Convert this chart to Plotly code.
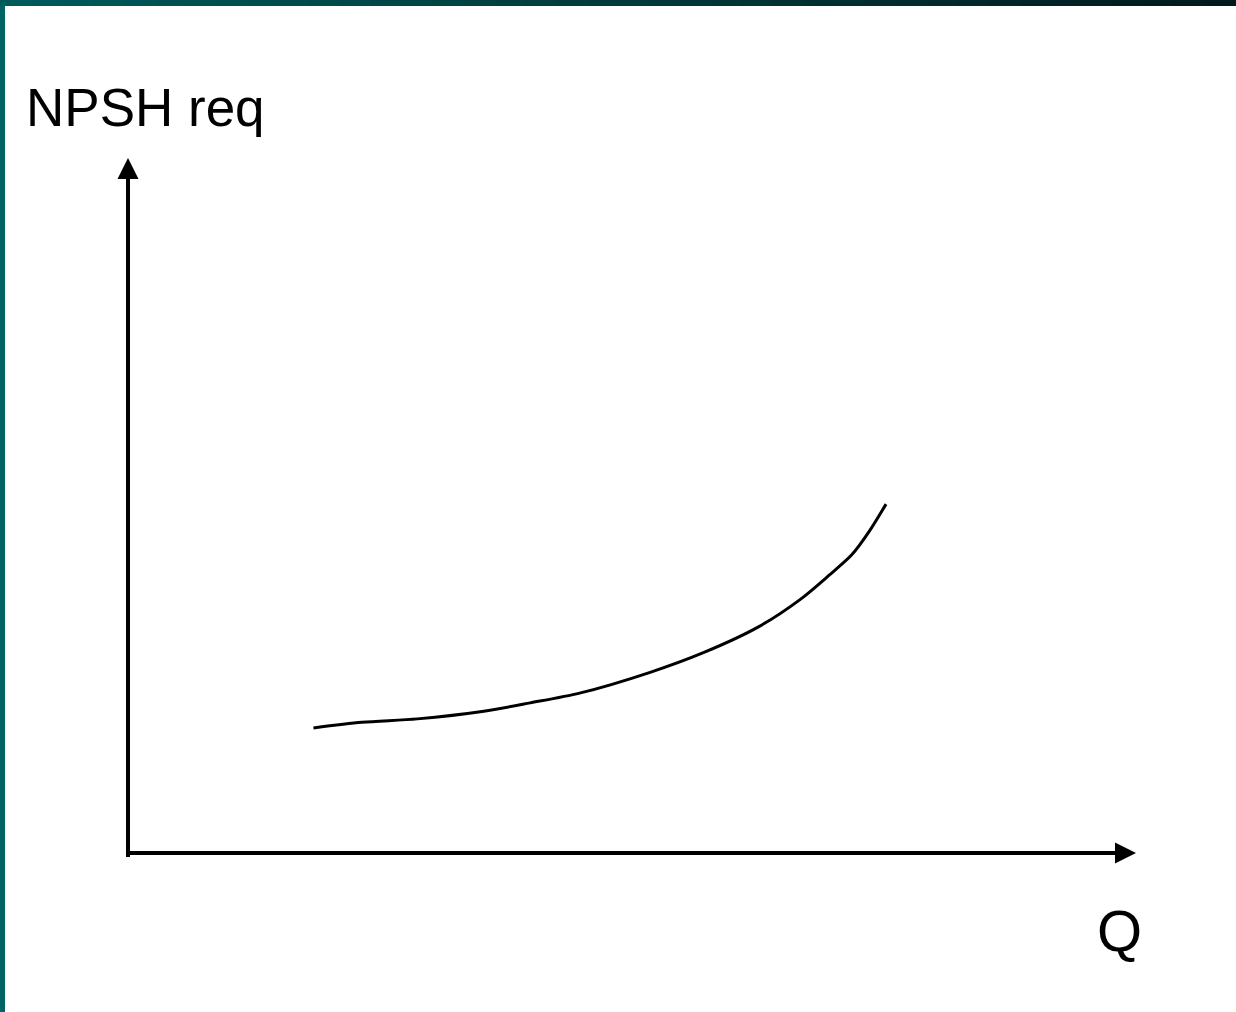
import plotly.graph_objects as go

# Data (arbitrary units)
q_values = [18.4, 23.2, 28.7, 35.3, 39.9, 44.8, 51.8, 57.2, 62.5, 66.7, 69.5, 71.8, 73.5, 75.2]
npsh_values = [18.0, 18.8, 19.3, 20.4, 21.6, 23.0, 26.0, 28.9, 32.5, 36.5, 39.9, 42.9, 46.2, 50.2]
y_label = "NPSH req"
x_label = "Q"

W, H = 1236, 1012
ML, MR, MT, MB = 128, 100, 158, 159
PW, PH = W - ML - MR, H - MT - MB

def px_x(p):
    return (p - ML) / PW

def px_y(p):
    return (H - MB - p) / PH

fig = go.Figure()
fig.add_trace(go.Scatter(x=q_values, y=npsh_values, mode="lines",
                         line=dict(color="black", width=3, shape="spline", smoothing=0.8),
                         showlegend=False, hoverinfo="skip"))

annotations = [
    # y axis arrow
    dict(x=0, y=100, ax=0, ay=-0.8, xref="x", yref="y", axref="x", ayref="y",
         showarrow=True, arrowhead=2, arrowsize=1.05, arrowwidth=4, arrowcolor="black", text=""),
    # x axis arrow
    dict(x=100, y=0, ax=-0.1, ay=0, xref="x", yref="y", axref="x", ayref="y",
         showarrow=True, arrowhead=2, arrowsize=1.05, arrowwidth=4, arrowcolor="black", text=""),
    dict(x=px_x(24), y=px_y(107), xref="paper", yref="paper", text=y_label, showarrow=False,
         xanchor="left", yanchor="middle",
         font=dict(family="Liberation Sans, Arial", size=53, color="black")),
    dict(x=px_x(1119), y=px_y(930), xref="paper", yref="paper", text=x_label, showarrow=False,
         xanchor="center", yanchor="middle",
         font=dict(family="Liberation Sans, Arial", size=58, color="black")),
]

shapes = []
# left teal band
shapes.append(dict(type="rect", xref="paper", yref="paper", x0=px_x(0), x1=px_x(5),
                   y0=px_y(H), y1=px_y(0), fillcolor="#006464", line=dict(width=0), layer="above"))
# top gradient band
n = 40
c0 = (0x00, 0x5a, 0x5a)
c1 = (0x00, 0x1a, 0x1c)
for i in range(n):
    t = i / (n - 1)
    col = "rgb({},{},{})".format(*[round(a + (b - a) * t) for a, b in zip(c0, c1)])
    shapes.append(dict(type="rect", xref="paper", yref="paper",
                       x0=px_x(W * i / n), x1=px_x(W * (i + 1) / n + 1),
                       y0=px_y(6), y1=px_y(0), fillcolor=col, line=dict(width=0), layer="above"))

fig.update_layout(
    width=W, height=H,
    margin=dict(l=ML, r=MR, t=MT, b=MB, pad=0),
    paper_bgcolor="white", plot_bgcolor="white",
    xaxis=dict(range=[0, 100], visible=False, fixedrange=True),
    yaxis=dict(range=[0, 100], visible=False, fixedrange=True),
    annotations=annotations,
    shapes=shapes,
)

fig.write_html("out.html", config={"displayModeBar": False},
               post_script="document.body.style.margin='0';document.body.style.overflow='hidden';")
